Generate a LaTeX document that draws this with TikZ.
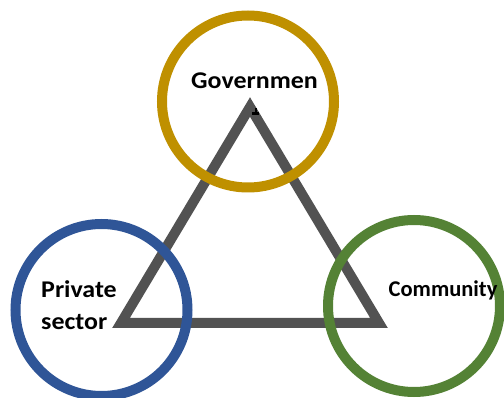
\documentclass[tikz,border=0pt]{standalone}
\usepackage{fontspec}
\setmainfont{Carlito}
\begin{document}
\begin{tikzpicture}[x=1pt,y=-1pt,
  ring/.style={circle,draw=#1,line width=10pt,minimum size=172pt,inner sep=0pt},
  frame/.style={draw=triGray,line width=10pt,line join=miter},
  label/.style={font=\bfseries\fontsize{24}{32}\selectfont,inner sep=0pt,align=left}]
\definecolor{ringGold}{HTML}{BF9000}
\definecolor{ringBlue}{HTML}{2F5597}
\definecolor{ringGreen}{HTML}{548235}
\definecolor{triGray}{HTML}{525252}
\useasboundingbox (0,0) rectangle (504,398);
% triangle linking the three partners
\coordinate (apex) at (250,107);
\coordinate (bl) at (121,323);
\coordinate (br) at (379,323);
\draw[frame] (apex) -- (br) -- (bl) -- cycle;
% small mark under the apex
\fill[black] (252,112) rectangle (259,115);
\fill[black] (255,108.5) rectangle (256.5,112);
% partner rings
\node[ring=ringGold] (gov) at (248,101.5) {};
\node[ring=ringBlue] (priv) at (101.5,310) {};
\node[ring=ringGreen] (comm) at (414,306) {};
% labels
\node[label,anchor=base west,xscale=1.08] (govt) at (191,89) {Governmen};
\node[label,anchor=base west,xscale=1.08] (privt) at (41,330) {Private\\sector};
\node[label,anchor=base west,font=\bfseries\fontsize{22.5}{27}\selectfont] (commt) at (388.5,296.5) {Community};
\end{tikzpicture}
\end{document}
